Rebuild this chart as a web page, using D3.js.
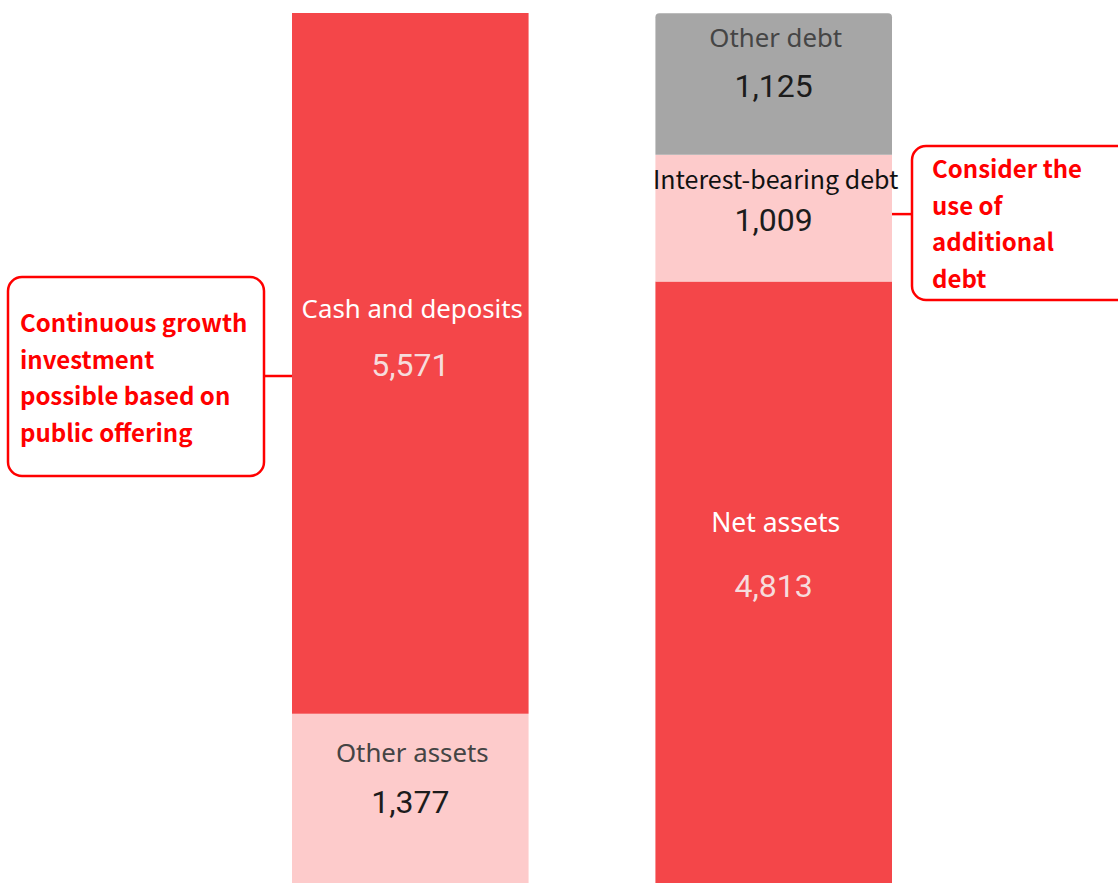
<!DOCTYPE html>
<html>
<head>
<meta charset="utf-8">
<script src="https://cdn.jsdelivr.net/npm/d3@7"></script>
<style>
  html, body { margin: 0; padding: 0; background: #ffffff; }
  svg { display: block; }
</style>
</head>
<body>
<svg id="chart" width="1118" height="883"></svg>
<script>
// Balance sheet columns (million yen)
const columns = ["Assets", "Liabilities and net assets"];

// Segments listed bottom-to-top for each column
const assetNames = ["Other assets", "Cash and deposits"];
const assetValues = [1377, 5571];

const liabilityNames = ["Net assets", "Interest-bearing debt", "Other debt"];
const liabilityValues = [4813, 1009, 1125];

// Callout notes beside each column
const assetNote = ["Continuous growth", "investment", "possible based on", "public offering"];
const liabilityNote = ["Consider the", "use of", "additional", "debt"];

// Visual styling per segment
const segStyle = {
  "Cash and deposits":     { fill: "#f44649", label: "#ffffff", value: "#f6dcdc", dy: -58, size: 25.8, labelFont: "'Noto Sans', sans-serif" },
  "Other assets":          { fill: "#fdcbcb", label: "#444444", value: "#1c1c1c", dy: -51, size: 25.8, labelFont: "'Noto Sans', sans-serif" },
  "Other debt":            { fill: "#a6a6a6", label: "#454545", value: "#1c1c1c", dy: -50, size: 25.8, labelFont: "'Noto Sans', sans-serif" },
  "Interest-bearing debt": { fill: "#fdcbcb", label: "#111111", value: "#1c1c1c", dy: -42, size: 25, labelFont: "'Noto Sans CJK JP', sans-serif" },
  "Net assets":            { fill: "#f44649", label: "#ffffff", value: "#f6dcdc", dy: -65, size: 26.5, labelFont: "'Noto Sans', sans-serif" }
};

const svg = d3.select("#chart");

const x = d3.scaleBand().domain(columns).range([292, 892]).paddingInner(0.349).paddingOuter(0);
const y = d3.scaleLinear().domain([0, d3.sum(assetValues)]).range([887, 13]);

function stackSegments(names, values, col) {
  let acc = 0;
  return names.map((n, i) => {
    const s = { name: n, value: values[i], col, y0: acc, y1: acc + values[i] };
    acc += values[i];
    return s;
  });
}

const segments = [
  ...stackSegments(assetNames, assetValues, columns[0]),
  ...stackSegments(liabilityNames, liabilityValues, columns[1])
];

const fmt = d3.format(",");

const g = svg.append("g");

// Top segment of the right column has softly rounded upper corners
function segPath(d) {
  const x0 = x(d.col), x1 = x0 + x.bandwidth();
  const top = y(d.y1), bot = y(d.y0);
  const r = d.name === "Other debt" ? 4 : 0;
  return `M${x0},${bot}V${top + r}Q${x0},${top} ${x0 + r},${top}H${x1 - r}Q${x1},${top} ${x1},${top + r}V${bot}Z`;
}

g.selectAll("path.seg")
  .data(segments)
  .join("path")
  .attr("class", "seg")
  .attr("d", segPath)
  .attr("fill", d => segStyle[d.name].fill);

// Value and name labels, centred in each segment
segments.forEach(d => {
  const cx = x(d.col) + x.bandwidth() / 2;
  const cy = (y(d.y0) + y(d.y1)) / 2;
  const st = segStyle[d.name];
  g.append("text")
    .attr("x", cx)
    .attr("y", cy + 13)
    .attr("text-anchor", "middle")
    .attr("font-family", "Roboto, sans-serif")
    .attr("font-size", 32)
    .attr("fill", st.value)
    .text(fmt(d.value));
  g.append("text")
    .attr("x", cx + 2)
    .attr("y", cy + 13 + st.dy)
    .attr("text-anchor", "middle")
    .attr("font-family", st.labelFont)
    .attr("font-size", st.size)
    .attr("fill", st.label)
    .text(d.name);
});

// Callout boxes with connector lines
function callout(lines, box, anchorX, lineY) {
  const c = svg.append("g");
  c.append("rect")
    .attr("x", box.x).attr("y", box.y)
    .attr("width", box.w).attr("height", box.h)
    .attr("rx", 14).attr("ry", 14)
    .attr("fill", "#ffffff")
    .attr("stroke", "#ff0000")
    .attr("stroke-width", 2.5);
  const edge = anchorX < box.x ? box.x : box.x + box.w;
  c.append("line")
    .attr("x1", edge).attr("x2", anchorX)
    .attr("y1", lineY).attr("y2", lineY)
    .attr("stroke", "#ff0000")
    .attr("stroke-width", 2.5);
  c.selectAll("text")
    .data(lines)
    .join("text")
    .attr("x", box.x + box.tx)
    .attr("y", (d, i) => box.y + box.ty + i * 36.7)
    .attr("font-family", "'Noto Sans CJK JP', sans-serif")
    .attr("font-weight", 700)
    .attr("font-size", 24)
    .attr("fill", "#ff0000")
    .text(d => d);
}

const ibdSeg = segments.find(s => s.name === "Interest-bearing debt");

callout(assetNote, { x: 8, y: 277, w: 256, h: 199, tx: 12, ty: 55 }, x(columns[0]), 376);
callout(liabilityNote, { x: 912, y: 146, w: 220, h: 154, tx: 20, ty: 32 }, x(columns[1]) + x.bandwidth(), (y(ibdSeg.y0) + y(ibdSeg.y1)) / 2 - 4);
</script>
</body>
</html>
